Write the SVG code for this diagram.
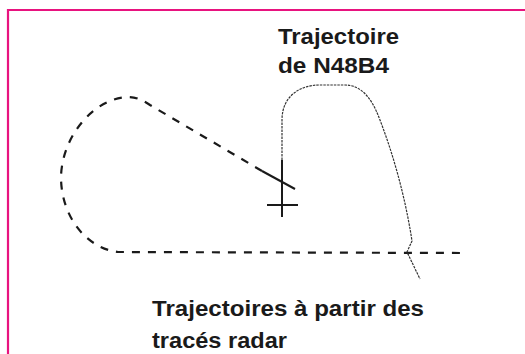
<svg xmlns="http://www.w3.org/2000/svg" width="525" height="354" viewBox="0 0 525 354">
<style>
.lbl{font-family:"Liberation Sans",Arial,sans-serif;font-weight:bold;font-size:22px;fill:#1a1a1a}
.radar{fill:none;stroke:#1a1a1a;stroke-width:2.2;stroke-dasharray:8 8}
.traj{fill:none;stroke:#333;stroke-width:1.2;stroke-dasharray:2.5 1}
.solid{fill:none;stroke:#1a1a1a;stroke-width:2}
</style>
<rect width="525" height="354" fill="#fff"/>
<g id="frame">
<line x1="7" y1="10" x2="525" y2="10" stroke="#e8137f" stroke-width="2.2"/>
<line x1="8" y1="9" x2="8" y2="354" stroke="#e8137f" stroke-width="2.2"/>
</g>
<g id="connectors">
<path class="radar" d="M 262 171 L 150 105 C 141 99 135 97 128 97 C 95 98 62 135 61 177 C 61 215 85 248 118 252 L 463 253"/>
<path class="solid" d="M 262 171 L 295 189"/>
<path class="traj" d="M 282 160 L 282 120 C 282 96 300 85 320 85 L 345 85 C 362 85 372 100 378 115 C 392 150 405 195 412 241 L 407 252 L 420 279"/>
</g>
<g id="cross">
<line class="solid" x1="282" y1="160" x2="282" y2="217"/>
<line class="solid" x1="267" y1="205" x2="298" y2="205"/>
</g>
<g id="label-n48b4">
<text class="lbl" x="278" y="44" textLength="121" lengthAdjust="spacingAndGlyphs">Trajectoire</text>
<text class="lbl" x="278" y="73" textLength="111" lengthAdjust="spacingAndGlyphs">de N48B4</text>
</g>
<g id="label-radar">
<text class="lbl" x="152" y="316" textLength="272" lengthAdjust="spacingAndGlyphs">Trajectoires à partir des</text>
<text class="lbl" x="152" y="348" textLength="135" lengthAdjust="spacingAndGlyphs">tracés radar</text>
</g>
</svg>
